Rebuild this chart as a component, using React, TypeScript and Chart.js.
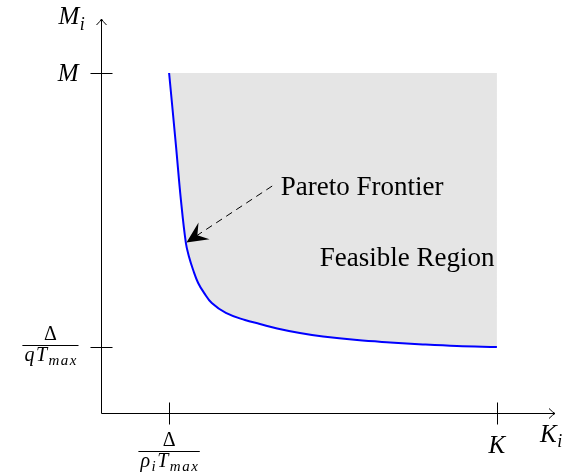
import React, { useEffect, useRef } from "react";
import { Chart, registerables } from "chart.js";

Chart.register(...registerables);

// Pareto frontier samples (K_i, M_i) in normalized units
const frontierK = [1.5, 1.65, 1.76, 1.87, 1.94, 2.03, 2.14, 2.27, 2.44, 2.75, 3.17, 3.5, 3.88, 4.38, 4.89, 5.64, 6.37, 7.09, 7.84, 8.72];
const frontierM = [8.63, 6.8, 5.41, 4.31, 3.96, 3.63, 3.3, 3.05, 2.79, 2.54, 2.36, 2.26, 2.145, 2.03, 1.94, 1.85, 1.79, 1.74, 1.7, 1.675];

const xTickValues = [1.5, 8.72];
const xTickLabels = ["Δ/ρ_iT_max", "K"];
const yTickValues = [1.675, 8.63];
const yTickLabels = ["Δ/qT_max", "M"];
const xAxisTitle = "K_i";
const yAxisTitle = "M_i";

const paretoLabel = "Pareto Frontier";
const paretoLabelAt = [3.96, 5.71];
const paretoArrowFrom = [3.77, 5.76];
const paretoArrowTo = [1.883, 4.33];
const feasibleLabel = "Feasible Region";
const feasibleLabelAt = [4.82, 3.91];

const SERIF = "'Liberation Serif', 'Times New Roman', serif";

type Tok = { base: string; sub: string };
function parseMath(s: string): Tok[] {
  const chars = [...s];
  const out: Tok[] = [];
  let i = 0;
  while (i < chars.length) {
    const base = chars[i++];
    let sub = "";
    if (chars[i] === "_") {
      i++;
      while (i < chars.length && /[a-z]/.test(chars[i])) sub += chars[i++];
    }
    out.push({ base, sub });
  }
  return out;
}

function baseFont(ch: string, size: number) {
  const upright = ch === "Δ";
  return `${upright ? "" : "italic "}${size}px ${SERIF}`;
}

function layoutMath(ctx: CanvasRenderingContext2D, s: string, size: number, spacing: number, subRatio: number) {
  const subSize = Math.round(size * subRatio);
  const parts: { text: string; font: string; dx: number; dy: number }[] = [];
  let w = 0;
  for (const t of parseMath(s)) {
    ctx.font = baseFont(t.base, size);
    parts.push({ text: t.base, font: ctx.font, dx: w, dy: 0 });
    w += ctx.measureText(t.base).width + spacing;
    if (t.sub) {
      ctx.font = `italic ${subSize}px ${SERIF}`;
      for (const c of [...t.sub]) {
        parts.push({ text: c, font: ctx.font, dx: w, dy: size * 0.22 });
        w += ctx.measureText(c).width + spacing;
      }
    }
  }
  return { parts, w: w - spacing };
}

function drawMath(ctx: CanvasRenderingContext2D, s: string, x: number, y: number, size: number, align: "left" | "center" | "right", spacing = 0.5, subRatio = 0.7) {
  const { parts, w } = layoutMath(ctx, s, size, spacing, subRatio);
  const x0 = align === "left" ? x : align === "center" ? x - w / 2 : x - w;
  ctx.textAlign = "left";
  ctx.textBaseline = "alphabetic";
  for (const p of parts) {
    ctx.font = p.font;
    ctx.fillText(p.text, x0 + p.dx, y + p.dy);
  }
  return w;
}

const FR_SIZE = 20;
function fractionWidth(ctx: CanvasRenderingContext2D, s: string) {
  const [num, den] = s.split("/");
  const wn = layoutMath(ctx, num, FR_SIZE, 1.5, 0.75).w;
  const wd = layoutMath(ctx, den, FR_SIZE, 1.5, 0.75).w;
  return Math.max(wn, wd) + 4;
}

function drawFraction(ctx: CanvasRenderingContext2D, s: string, cx: number, barY: number) {
  const [num, den] = s.split("/");
  const w = fractionWidth(ctx, s);
  ctx.save();
  ctx.strokeStyle = "#000";
  ctx.lineWidth = 1;
  ctx.beginPath();
  ctx.moveTo(cx - w / 2, Math.round(barY) + 0.5);
  ctx.lineTo(cx + w / 2, Math.round(barY) + 0.5);
  ctx.stroke();
  ctx.restore();
  drawMath(ctx, num, cx, barY - 5, FR_SIZE, "center", 1.5, 0.75);
  drawMath(ctx, den, cx, barY + 16, FR_SIZE, "center", 1.5, 0.75);
  return w;
}

const decorPlugin = {
  id: "decor",
  afterDatasetsDraw(chart: any) {
    const ctx: CanvasRenderingContext2D = chart.ctx;
    const xs = chart.scales.x;
    const ys = chart.scales.y;
    const x0 = Math.round(xs.getPixelForValue(xs.min)) + 0.5;
    const y0 = Math.round(ys.getPixelForValue(ys.min)) + 0.5;
    const xEnd = xs.getPixelForValue(xs.max);
    const yEnd = ys.getPixelForValue(ys.max);
    ctx.save();
    ctx.fillStyle = "#000";
    ctx.strokeStyle = "#000";
    ctx.lineWidth = 1;
    // axes
    ctx.beginPath();
    ctx.moveTo(x0, y0);
    ctx.lineTo(xEnd, y0);
    ctx.moveTo(x0, y0);
    ctx.lineTo(x0, yEnd);
    ctx.stroke();
    // arrow heads (open)
    ctx.beginPath();
    ctx.moveTo(xEnd - 6, y0 - 5);
    ctx.quadraticCurveTo(xEnd - 2, y0 - 1, xEnd, y0);
    ctx.quadraticCurveTo(xEnd - 2, y0 + 1, xEnd - 6, y0 + 5);
    ctx.moveTo(x0 - 5, yEnd + 6);
    ctx.quadraticCurveTo(x0 - 1, yEnd + 2, x0, yEnd);
    ctx.quadraticCurveTo(x0 + 1, yEnd + 2, x0 + 5, yEnd + 6);
    ctx.stroke();
    // ticks
    ctx.beginPath();
    xTickValues.forEach((v) => {
      const px = Math.round(xs.getPixelForValue(v)) + 0.5;
      ctx.moveTo(px, y0 - 11);
      ctx.lineTo(px, y0 + 11);
    });
    yTickValues.forEach((v) => {
      const py = Math.round(ys.getPixelForValue(v)) + 0.5;
      ctx.moveTo(x0 - 11, py);
      ctx.lineTo(x0 + 11, py);
    });
    ctx.stroke();
    // tick labels
    xTickValues.forEach((v, i) => {
      const px = xs.getPixelForValue(v);
      const lab = xTickLabels[i];
      if (lab.includes("/")) drawFraction(ctx, lab, px, y0 + 37);
      else drawMath(ctx, lab, px, y0 + 39, 25, "center");
    });
    yTickValues.forEach((v, i) => {
      const py = ys.getPixelForValue(v);
      const lab = yTickLabels[i];
      if (lab.includes("/")) {
        const w = fractionWidth(ctx, lab);
        drawFraction(ctx, lab, x0 - 23 - w / 2, py - 2);
      } else drawMath(ctx, lab, x0 - 23, py + 8, 25, "right");
    });
    // axis titles
    drawMath(ctx, yAxisTitle, x0 - 43, yEnd + 5, 25, "left");
    drawMath(ctx, xAxisTitle, xEnd - 15, y0 + 28, 25, "left");
    // annotations
    ctx.font = `27px ${SERIF}`;
    ctx.textAlign = "left";
    ctx.textBaseline = "middle";
    ctx.fillText(paretoLabel, xs.getPixelForValue(paretoLabelAt[0]), ys.getPixelForValue(paretoLabelAt[1]));
    ctx.fillText(feasibleLabel, xs.getPixelForValue(feasibleLabelAt[0]), ys.getPixelForValue(feasibleLabelAt[1]));
    // dashed arrow
    const ax = xs.getPixelForValue(paretoArrowFrom[0]);
    const ay = ys.getPixelForValue(paretoArrowFrom[1]);
    const bx = xs.getPixelForValue(paretoArrowTo[0]);
    const by = ys.getPixelForValue(paretoArrowTo[1]);
    const len = Math.hypot(bx - ax, by - ay);
    const ux = (bx - ax) / len;
    const uy = (by - ay) / len;
    const L = 21;
    const W = 10;
    ctx.setLineDash([7, 5]);
    ctx.beginPath();
    ctx.moveTo(ax, ay);
    ctx.lineTo(bx - ux * 12, by - uy * 12);
    ctx.stroke();
    ctx.setLineDash([]);
    const px = -uy;
    const py = ux;
    ctx.beginPath();
    ctx.moveTo(bx, by);
    ctx.lineTo(bx - ux * L + px * W, by - uy * L + py * W);
    ctx.lineTo(bx - ux * 13, by - uy * 13);
    ctx.lineTo(bx - ux * L - px * W, by - uy * L - py * W);
    ctx.closePath();
    ctx.fill();
    ctx.restore();
  },
};

export default function App() {
  const ref = useRef<HTMLCanvasElement | null>(null);
  useEffect(() => {
    if (!ref.current) return;
    const chart = new Chart(ref.current, {
      type: "line",
      data: {
        datasets: [
          {
            data: frontierK.map((k, i) => ({ x: k, y: frontierM[i] })),
            borderColor: "#0000ff",
            borderWidth: 2,
            backgroundColor: "#e5e5e5",
            fill: { value: yTickValues[1] },
            pointRadius: 0,
            tension: 0.4,
          },
        ],
      },
      options: {
        responsive: false,
        animation: false,
        devicePixelRatio: 1,
        layout: { padding: { left: 101, right: 20, top: 19, bottom: 62 } },
        plugins: { legend: { display: false }, tooltip: { enabled: false } },
        scales: {
          x: { type: "linear", min: 0, max: 10, display: false },
          y: { type: "linear", min: 0, max: 10, display: false },
        },
      },
      plugins: [decorPlugin],
    } as any);
    return () => chart.destroy();
  }, []);
  return (
    <div style={{ position: "fixed", left: 0, top: 0, width: 575, height: 475, background: "#fff" }}>
      <canvas ref={ref} width={575} height={475} style={{ display: "block", width: 575, height: 475 }} />
    </div>
  );
}
